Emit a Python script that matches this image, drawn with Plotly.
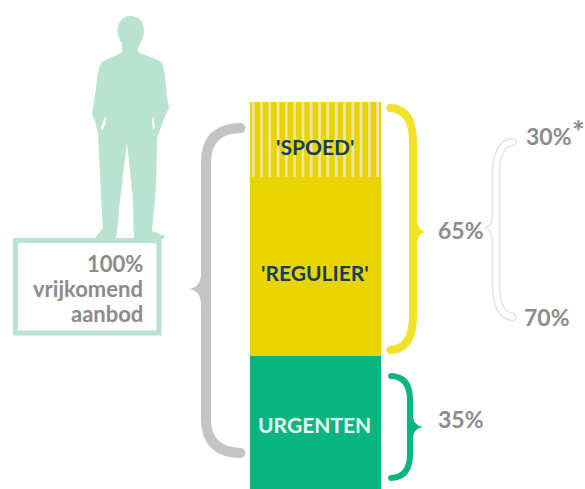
import plotly.graph_objects as go

W, H = 585, 489

# Data
category = ["Vrijkomend aanbod"]
segment_names = ["URGENTEN", "'REGULIER'", "'SPOED'"]
segment_values = [34.4, 46.1, 19.5]
regular_split_labels = ["30%", "70%"]
group_labels = ["65%", "35%"]
total_label = ["100%", "vrijkomend", "aanbod"]

GREEN, YELLOW, STRIPE = "#0bb57f", "#ead400", "#efe7b8"
MINT, GREY, NAVY = "#b9e2d1", "#8b8b8b", "#123f5c"
FONT = "Lato"


def px(x):
    return x / W


def py(y):
    return 1 - y / H


def path(items):
    """Build an SVG path in paper coordinates from window-pixel points."""
    out = []
    for cmd, *pts in items:
        out.append(cmd + " ".join(f"{px(x):.5f},{py(y):.5f}" for x, y in pts))
    return " ".join(out) + " Z"


def brace(xe, xs, xt, y0, ym, y1, w, r=34, r2=18):
    s = 1 if xe > xs else -1
    xo, xi = xs - s * w / 2, xs + s * w / 2
    h = w / 2
    return path([
        ("M", (xe, y0 - h)),
        ("Q", (xo, y0 - h), (xo, y0 + r)),
        ("L", (xo, ym - r2)),
        ("Q", (xo + s * 1, ym - 2), (xt, ym)),
        ("Q", (xo + s * 1, ym + 2), (xo, ym + r2)),
        ("L", (xo, y1 - r)),
        ("Q", (xo, y1 + h), (xe, y1 + h)),
        ("Q", (xe + s * h * 1.4, y1), (xe, y1 - h)),
        ("Q", (xi, y1 - h), (xi, y1 - r)),
        ("L", (xi, ym + r2)),
        ("Q", (xi, ym), (xi, ym - r2)),
        ("L", (xi, y0 + r)),
        ("Q", (xi, y0 + h), (xe, y0 + h)),
        ("Q", (xe + s * h * 1.4, y0), (xe, y0 - h)),
    ])


person = path([
    ("M", (130, 16)),
    ("C", (139, 16), (144, 22), (144, 30)),
    ("C", (144, 37), (141, 43), (138, 47)),
    ("L", (138, 52)),
    ("C", (146, 56), (156, 58), (161, 62)),
    ("C", (165, 68), (166, 85), (167, 95)),
    ("L", (169, 108)),
    ("L", (165, 116)),
    ("L", (160, 130)),
    ("L", (157, 138)),
    ("L", (156, 187)),
    ("L", (152, 231)),
    ("L", (165, 236)),
    ("L", (163, 239)),
    ("L", (134, 239)),
    ("L", (133, 200)),
    ("L", (127, 143)),
    ("L", (120, 200)),
    ("L", (117, 232)),
    ("L", (116, 239)),
    ("L", (95, 238)),
    ("L", (103, 228)),
    ("L", (101, 195)),
    ("L", (98, 133)),
    ("L", (95, 121)),
    ("L", (92, 114)),
    ("L", (96, 88)),
    ("C", (97, 75), (99, 66), (102, 62)),
    ("C", (108, 58), (116, 56), (122, 52)),
    ("L", (122, 43)),
    ("C", (118, 38), (117, 32), (118, 27)),
    ("C", (119, 21), (124, 16), (130, 16)),
])
slit_left = path([("M", (101, 127)), ("L", (106, 115)), ("L", (105, 125)), ("L", (102, 131))])
slit_right = path([("M", (153, 116)), ("L", (155, 127)), ("L", (153, 130)), ("L", (152, 122))])

shapes = [
    dict(type="path", path=person, fillcolor=MINT, line_width=0),
    dict(type="path", path=slit_left, fillcolor="white", line_width=0),
    dict(type="path", path=slit_right, fillcolor="white", line_width=0),
    dict(type="rect", xref="paper", yref="paper", x0=px(15.5), x1=px(159), y0=py(333), y1=py(240.5),
         line=dict(color=MINT, width=5), fillcolor="white"),
    dict(type="path", path=brace(242, 206, 189, 128, 289, 453, 10), fillcolor="#c4c4c4", line_width=0),
    dict(type="path", path=brace(389, 413, 425, 108, 232, 350, 8), fillcolor="#f0e32a", line_width=0),
    dict(type="path", path=brace(390, 410, 423, 376, 427, 478, 6, r=24, r2=14), fillcolor=GREEN, line_width=0),
    dict(type="path", path=brace(514, 496, 485, 142, 228, 317, 7), fillcolor="white",
         line=dict(color="#e3e3e3", width=1.5)),
]
for s in shapes:
    s.setdefault("xref", "paper")
    s.setdefault("yref", "paper")

fig = go.Figure()
colors = [GREEN, YELLOW, YELLOW]
for i, (name, value) in enumerate(zip(segment_names, segment_values)):
    marker = dict(color=colors[i], line_width=0)
    if name == "'SPOED'":
        marker["pattern"] = dict(shape="|", size=8.3, solidity=0.3, fgcolor=STRIPE, bgcolor=YELLOW, fillmode="replace")
    fig.add_trace(go.Bar(x=category, y=[value], name=name, width=1, marker=marker, hoverinfo="name+y"))


def label(x, y, text, size, color=GREY, anchor="center", bold=True):
    t = f"<b>{text}</b>" if bold else text
    fig.add_annotation(x=px(x), y=py(y), xref="paper", yref="paper", text=t, showarrow=False,
                       xanchor=anchor, yanchor="middle", font=dict(family=FONT, size=size, color=color))


label(315, 146, segment_names[2], 21, NAVY)
label(315, 272, segment_names[1], 21, NAVY)
label(314, 424, segment_names[0], 21, "#e6fff5")
label(145, 263, total_label[0], 22, anchor="right")
label(145, 288, total_label[1], 22, anchor="right")
label(145, 313, total_label[2], 22, anchor="right")
label(461, 230, group_labels[0], 23)
label(461, 419, group_labels[1], 23)
label(549, 136, regular_split_labels[0], 23)
label(547, 317, regular_split_labels[1], 23)
label(578, 131, "*", 30)

bar_left, bar_width = 250, 131
unit = (489 - 102) / sum(segment_values)
fig.update_layout(
    width=W, height=H, margin=dict(l=0, r=0, t=0, b=0), barmode="stack", showlegend=False,
    paper_bgcolor="white", plot_bgcolor="white", shapes=shapes,
    xaxis=dict(visible=False, type="category",
               range=[-(bar_left + bar_width / 2) / bar_width, (W - bar_left - bar_width / 2) / bar_width]),
    yaxis=dict(visible=False, range=[0, H / unit]),
)
fig.write_html("out.html", config=dict(displayModeBar=False),
               post_script="document.body.style.margin='0';")
